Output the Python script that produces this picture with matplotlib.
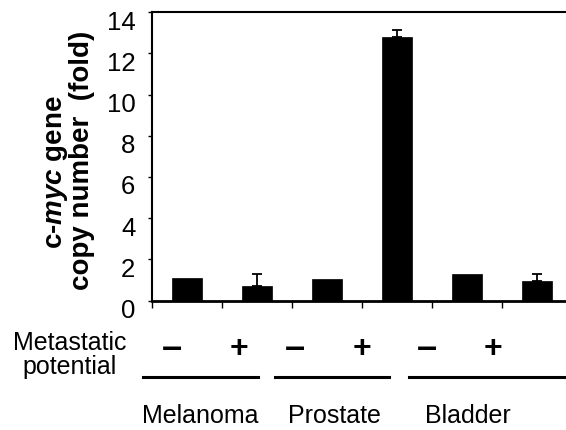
import matplotlib
matplotlib.use("Agg")
import matplotlib.pyplot as plt
import matplotlib.transforms as mtransforms
from matplotlib.lines import Line2D
import numpy as np

plt.rcParams['font.family'] = ['Liberation Sans', 'DejaVu Sans']
plt.rcParams['mathtext.fontset'] = 'custom'
plt.rcParams['mathtext.rm'] = 'Liberation Sans:bold'
plt.rcParams['mathtext.it'] = 'Liberation Sans:italic:bold'
plt.rcParams['mathtext.bf'] = 'Liberation Sans:bold'

# Data
groups = ["Melanoma", "Prostate", "Bladder"]
signs = ["\u2013", "+", "\u2013", "+", "\u2013", "+"]
values = [1.07, 0.70, 1.03, 12.78, 1.30, 0.97]
errors = [0.0, 0.57, 0.0, 0.37, 0.0, 0.30]
yticks = [0, 2, 4, 6, 8, 10, 12, 14]

W, H = 566, 431
fig = plt.figure(figsize=(W / 100, H / 100), dpi=100)
ax = fig.add_axes([152 / W, 1 - 301.5 / H, 420 / W, (301.5 - 13.3) / H])

x = np.arange(len(values)) + 0.5
vals = np.array(values)
errs = np.array(errors)
ax.bar(x, vals, width=0.43, color='black', edgecolor='black', linewidth=0.5, zorder=2)
m = errs > 0
ax.errorbar(x[m], vals[m], yerr=[np.zeros(m.sum()), errs[m]], fmt='none',
            ecolor='black', elinewidth=1.3, capsize=3.5, capthick=1.3, zorder=1)

ax.set_xlim(0, 6)
ax.set_ylim(0, 14)
ax.set_yticks(yticks)
ax.set_yticklabels([str(t) for t in yticks], fontsize=18.5)
ax.set_xticks(np.arange(0, 7))
ax.set_xticklabels([])
ax.tick_params(axis='y', direction='out', length=3, width=1, pad=9)
ax.tick_params(axis='x', direction='out', length=5, width=1)

offset = mtransforms.ScaledTranslation(0, -7 / 100, fig.dpi_scale_trans)
for lab in ax.get_yticklabels():
    lab.set_transform(lab.get_transform() + offset)

for s in ['left', 'top']:
    ax.spines[s].set_linewidth(1.5)
ax.spines['bottom'].set_linewidth(2)
ax.spines['right'].set_visible(False)

# y label (two lines)
fig.text(57 / W, 1 - 172 / H, r"c-$\mathit{myc}$ gene", rotation=90,
         ha='center', va='center', fontsize=20, fontweight='bold')
fig.text(82 / W, 1 - 160 / H, "copy number  (fold)", rotation=90,
         ha='center', va='center', fontsize=20, fontweight='bold')

# Metastatic potential label
fig.text(70 / W, 1 - 355 / H, "Metastatic\npotential", ha='center', va='center',
         fontsize=18, multialignment='center', linespacing=1.0)

trans = mtransforms.blended_transform_factory(ax.transData, fig.transFigure)
sign_x = [0.29, 1.24, 2.04, 3.0, 3.93, 4.87]
for sx, s in zip(sign_x, signs):
    fs = 26 if s == "\u2013" else 23
    fig.text(sx, 1 - 349 / H, s, transform=trans, ha='center', va='center',
             fontsize=fs, fontweight='bold')

line_spans = [(-0.13, 1.51), (1.76, 3.39), (3.67, 6.0)]
for a, b in line_spans:
    fig.add_artist(Line2D([a, b], [1 - 378 / H, 1 - 378 / H], transform=trans,
                          color='black', linewidth=2.2))

group_x = [0.69, 2.61, 4.51]
for gx, g in zip(group_x, groups):
    fig.text(gx, 1 - 416 / H, g, transform=trans, ha='center', va='center',
             fontsize=18)

fig.savefig("out.png", dpi=100)
